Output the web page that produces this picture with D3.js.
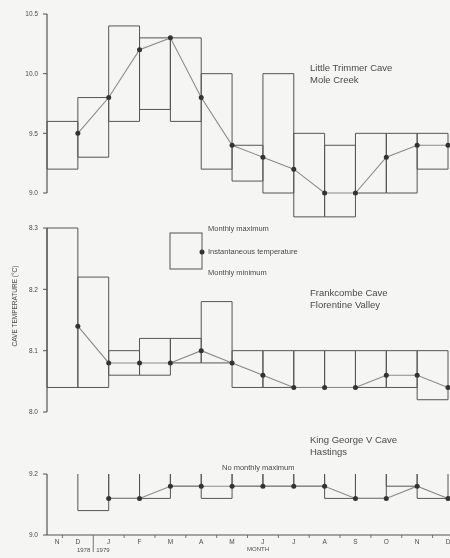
<!DOCTYPE html>
<html>
<head>
<meta charset="utf-8">
<script src="https://cdn.jsdelivr.net/npm/d3@7"></script>
<style>
  html, body { margin: 0; padding: 0; background: #f5f5f3; }
  svg { display: block; font-family: "Liberation Sans", "DejaVu Sans", sans-serif; will-change: transform; }
</style>
</head>
<body>
<div id="chart"></div>
<script>
// ----- data -----
const months = ["N", "D", "J", "F", "M", "A", "M", "J", "J", "A", "S", "O", "N", "D"];

// Little Trimmer Cave, Mole Creek
const trimmerTicks = [9.0, 9.5, 10.0, 10.5];
const trimmerInst = [null, 9.5, 9.8, 10.2, 10.3, 9.8, 9.4, 9.3, 9.2, 9.0, 9.0, 9.3, 9.4, 9.4];
const trimmerMax = [9.6, 9.8, 10.4, 10.3, 10.3, 10.0, 9.4, 10.0, 9.5, 9.4, 9.5, 9.5, 9.5];
const trimmerMin = [9.2, 9.3, 9.6, 9.7, 9.6, 9.2, 9.1, 9.0, 8.8, 8.8, 9.0, 9.0, 9.2];

// Frankcombe Cave, Florentine Valley
const frankTicks = [8.0, 8.1, 8.2, 8.3];
const frankInst = [null, 8.14, 8.08, 8.08, 8.08, 8.10, 8.08, 8.06, 8.04, 8.04, 8.04, 8.06, 8.06, 8.04];
const frankMax = [8.30, 8.22, 8.10, 8.12, 8.12, 8.18, 8.10, 8.10, 8.10, 8.10, 8.10, 8.10, 8.10];
const frankMin = [8.04, 8.04, 8.06, 8.06, 8.08, 8.08, 8.04, 8.04, 8.04, 8.04, 8.04, 8.04, 8.02];

// King George V Cave, Hastings (no monthly maximum)
const kingTicks = [9.0, 9.2];
const kingInst = [null, null, 9.12, 9.12, 9.16, 9.16, 9.16, 9.16, 9.16, 9.16, 9.12, 9.12, 9.16, 9.12];
const kingMin = [null, 9.08, 9.12, 9.12, 9.16, 9.12, 9.16, 9.16, 9.16, 9.12, 9.12, 9.16, 9.12];

// ----- layout -----
const w = 450, h = 558;
const axisX = 47;
const ink = "#555";
const textInk = "#4a4a4a";

const svg = d3.select("#chart").append("svg")
  .attr("width", w)
  .attr("height", h);

const x = d3.scaleLinear().domain([0, months.length - 1]).range([axisX, 448]);

function drawPanel(opts) {
  const y = d3.scaleLinear().domain(opts.domain).range(opts.range);
  const g = svg.append("g");

  // y axis
  g.append("line")
    .attr("x1", axisX).attr("x2", axisX)
    .attr("y1", y(opts.domain[1])).attr("y2", y(opts.domain[0]))
    .attr("stroke", ink).attr("stroke-width", 1.2);

  opts.ticks.forEach(t => {
    g.append("line")
      .attr("x1", axisX - 4).attr("x2", axisX)
      .attr("y1", y(t)).attr("y2", y(t))
      .attr("stroke", ink);
    g.append("text")
      .attr("x", axisX - 9).attr("y", y(t))
      .attr("dy", "0.35em")
      .attr("text-anchor", "end")
      .attr("font-size", 6.5)
      .attr("fill", textInk)
      .text(t.toFixed(1));
  });

  // monthly boxes
  opts.min.forEach((mn, k) => {
    if (mn == null) return;
    const x0 = x(k), x1 = x(k + 1);
    let d;
    if (opts.max) {
      const mx = opts.max[k];
      d = `M${x0},${y(mx)}H${x1}V${y(mn)}H${x0}Z`;
    } else {
      const top = y(opts.domain[1]);
      d = `M${x0},${top}V${y(mn)}H${x1}V${top}`;
    }
    g.append("path")
      .attr("d", d)
      .attr("fill", "none")
      .attr("stroke", ink)
      .attr("stroke-width", 1);
  });

  // instantaneous readings
  const pts = opts.inst.map((v, i) => ({ i, v }));
  const line = d3.line()
    .defined(d => d.v != null)
    .x(d => x(d.i))
    .y(d => y(d.v));

  g.append("path")
    .datum(pts)
    .attr("d", line)
    .attr("fill", "none")
    .attr("stroke", "#8a8a8a")
    .attr("stroke-width", 1.1);

  g.selectAll("circle.pt")
    .data(pts.filter(d => d.v != null))
    .join("circle")
    .attr("class", "pt")
    .attr("cx", d => x(d.i))
    .attr("cy", d => y(d.v))
    .attr("r", 2.5)
    .attr("fill", "#333");

  // cave name
  opts.title.forEach((t, j) => {
    g.append("text")
      .attr("x", 310)
      .attr("y", opts.titleY + j * 12)
      .attr("font-size", 9.5)
      .attr("fill", textInk)
      .text(t);
  });

  return y;
}

drawPanel({
  domain: [9.0, 10.5], range: [193, 14],
  ticks: trimmerTicks, inst: trimmerInst, max: trimmerMax, min: trimmerMin,
  title: ["Little Trimmer Cave", "Mole Creek"], titleY: 71
});

drawPanel({
  domain: [8.0, 8.3], range: [412, 228],
  ticks: frankTicks, inst: frankInst, max: frankMax, min: frankMin,
  title: ["Frankcombe Cave", "Florentine Valley"], titleY: 296
});

const yKing = drawPanel({
  domain: [9.0, 9.2], range: [535, 474],
  ticks: kingTicks, inst: kingInst, max: null, min: kingMin,
  title: ["King George V Cave", "Hastings"], titleY: 443
});

// ----- x axis (bottom panel) -----
const xAxisY = yKing(9.0);
svg.append("line")
  .attr("x1", axisX).attr("x2", 450)
  .attr("y1", xAxisY).attr("y2", xAxisY)
  .attr("stroke", ink).attr("stroke-width", 1.2);

months.forEach((m, i) => {
  svg.append("text")
    .attr("x", Math.max(x(i), axisX + 10))
    .attr("y", xAxisY + 9)
    .attr("text-anchor", "middle")
    .attr("font-size", 6.5)
    .attr("fill", textInk)
    .text(m);
  if (i < months.length - 1) {
    svg.append("line")
      .attr("x1", x(i + 0.5)).attr("x2", x(i + 0.5))
      .attr("y1", xAxisY).attr("y2", xAxisY + (i === 1 ? 17 : 3))
      .attr("stroke", ink)
      .attr("stroke-width", 0.8);
  }
});

svg.append("text")
  .attr("x", x(1.5) - 3).attr("y", xAxisY + 17)
  .attr("text-anchor", "end")
  .attr("font-size", 6)
  .attr("fill", textInk)
  .text("1978");
svg.append("text")
  .attr("x", x(1.5) + 3).attr("y", xAxisY + 17)
  .attr("font-size", 6)
  .attr("fill", textInk)
  .text("1979");
svg.append("text")
  .attr("x", 258).attr("y", xAxisY + 16)
  .attr("text-anchor", "middle")
  .attr("font-size", 6)
  .attr("fill", textInk)
  .text("MONTH");

svg.append("text")
  .attr("x", 222).attr("y", 470)
  .attr("font-size", 7.5)
  .attr("fill", textInk)
  .text("No monthly maximum");

// ----- y axis title -----
svg.append("text")
  .attr("transform", "translate(17,306) rotate(-90)")
  .attr("text-anchor", "middle")
  .attr("font-size", 6.5)
  .attr("fill", textInk)
  .text("CAVE TEMPERATURE (°C)");

// ----- legend -----
const legend = svg.append("g");
legend.append("rect")
  .attr("x", 170).attr("y", 233)
  .attr("width", 32).attr("height", 36)
  .attr("fill", "none")
  .attr("stroke", ink);
legend.append("circle")
  .attr("cx", 202).attr("cy", 252)
  .attr("r", 2.5)
  .attr("fill", "#333");

[["Monthly maximum", 231], ["Instantaneous temperature", 254], ["Monthly minimum", 275]].forEach(([t, ty]) => {
  legend.append("text")
    .attr("x", 208).attr("y", ty)
    .attr("font-size", 7.5)
    .attr("fill", textInk)
    .text(t);
});
</script>
</body>
</html>
